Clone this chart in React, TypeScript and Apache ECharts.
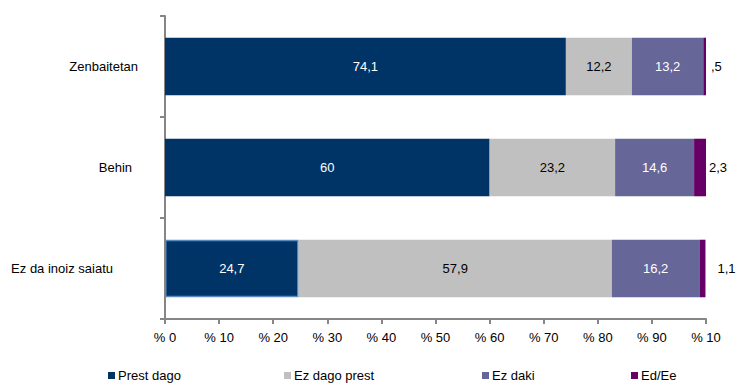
import React, { useEffect, useRef } from "react";
import * as echarts from "echarts";

const categories = ["Zenbaitetan", "Behin", "Ez da inoiz saiatu"];
const seriesNames = ["Prest dago", "Ez dago prest", "Ez daki", "Ed/Ee"];
const prestDago = [74.1, 60, 24.7];
const ezDagoPrest = [12.2, 23.2, 57.9];
const ezDaki = [13.2, 14.6, 16.2];
const edEe = [0.5, 2.3, 1.1];
const tickLabels = ["% 0", "% 10", "% 20", "% 30", "% 40", "% 50", "% 60", "% 70", "% 80", "% 90", "% 10"];

const colors = ["#003366", "#C0C0C0", "#666699", "#660066"];
const labelColors = ["#ffffff", "#000000", "#ffffff", "#000000"];
const legendLefts = [108, 284, 482, 631];
const outsideLabelDistances = [5, 3, 12];
const catPad: Record<string, number> = { Zenbaitetan: 0, Behin: 6, "Ez da inoiz saiatu": 25 };

const fmt = (v: number) => String(v).replace(".", ",").replace(/^0,/, ",");

export default function App() {
  const ref = useRef<HTMLDivElement>(null);
  useEffect(() => {
    document.body.style.margin = "0";
    if (!ref.current) return;
    const chart = echarts.init(ref.current, null, { renderer: "svg" });
    const values = [prestDago, ezDagoPrest, ezDaki, edEe];
    const font = "Liberation Sans, Arial, sans-serif";
    chart.setOption({
      animation: false,
      textStyle: { fontFamily: font },
      grid: { left: 165, right: 30, top: 16, bottom: 64, containLabel: false },
      legend: seriesNames.map((n, i) => ({
        data: [n],
        left: legendLefts[i],
        top: 369,
        padding: 0,
        itemWidth: 7,
        itemHeight: 7,
        itemGap: 3,
        icon: "rect",
        textStyle: { fontSize: 13, color: "#000", fontFamily: font, padding: [0, 0, 0, -2] },
      })),
      xAxis: {
        type: "value",
        min: 0,
        max: 100,
        interval: 10,
        splitLine: { show: false },
        axisLine: { show: true, lineStyle: { color: "#868686", width: 2 } },
        axisTick: { show: true, length: 5, lineStyle: { color: "#868686", width: 2 } },
        axisLabel: {
          color: "#000",
          fontSize: 13,
          fontFamily: font,
          margin: 12,
          formatter: (v: number) => tickLabels[Math.round(v / 10)],
        },
      },
      yAxis: {
        type: "category",
        data: categories,
        inverse: true,
        axisLine: { show: true, lineStyle: { color: "#868686", width: 2 } },
        axisTick: { show: true, length: 5, lineStyle: { color: "#868686", width: 2 } },
        axisLabel: {
          color: "#000",
          fontSize: 13,
          fontFamily: font,
          margin: 27,
          formatter: (v: string) => `{a|${v}}{p${catPad[v]}|}`,
          rich: {
            a: { fontSize: 13, color: "#000", fontFamily: font },
            p0: { width: 0 },
            p6: { width: 6 },
            p25: { width: 25 },
          },
        },
      },
      series: seriesNames.map((n, i) => ({
        name: n,
        type: "bar",
        stack: "total",
        barCategoryGap: "43%",
        itemStyle: { color: colors[i] },
        label: {
          show: true,
          position: i === 3 ? "right" : "inside",
          distance: i === 3 ? 10 : 5,
          color: labelColors[i],
          fontSize: 13,
          fontFamily: font,
          formatter: (p: any) => fmt(p.value),
        },
        data: values[i].map((v, j) => {
          if (i === 0 && j === 2)
            return { value: v, itemStyle: { color: colors[i], borderColor: "#5B8AC0", borderWidth: 1.5 } };
          if (i === 3) return { value: v, label: { distance: outsideLabelDistances[j] } };
          return v;
        }),
      })),
    });
    return () => chart.dispose();
  }, []);
  return <div ref={ref} style={{ width: 736, height: 383 }} />;
}
